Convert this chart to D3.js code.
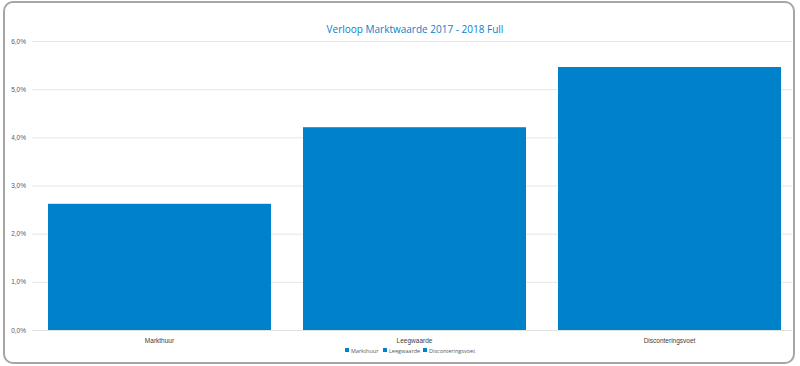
<!DOCTYPE html>
<html><head><meta charset="utf-8">
<script src="https://cdn.jsdelivr.net/npm/d3@7"></script>
<style>body{margin:0;background:#fff;}svg{display:block;font-family:"Open Sans","Liberation Sans",sans-serif;}</style>
</head><body><svg id="c" width="800" height="366"></svg>
<script>
const categories = ["Markthuur", "Leegwaarde", "Disconteringsvoet"];
const values = [0.0262, 0.0421, 0.0546];
const yTicks = [0, 0.01, 0.02, 0.03, 0.04, 0.05, 0.06];
const title = "Verloop Marktwaarde 2017 - 2018 Full";

const svg = d3.select("#c");
const color = "#0082CA";
svg.append("rect").attr("x",4).attr("y",2).attr("width",790).attr("height",361)
  .attr("rx",9).attr("fill","#fff").attr("stroke","#a6a6a6").attr("stroke-width",2);

const m = {l:32, r:792, t:41, b:330};
const x = d3.scaleBand().domain(categories).range([32, 797]).paddingInner(0.1255).paddingOuter(0.0627);
const y = d3.scaleLinear().domain([0,0.06]).range([m.b, m.t]);
const fmt = d => d3.format(".1f")(d*100).replace(".",",") + "%";

svg.append("g").selectAll("line").data(yTicks).join("line")
  .attr("x1",m.l).attr("x2",m.r).attr("y1",d=>y(d)+0.5).attr("y2",d=>y(d)+0.5)
  .attr("stroke","#e6e6e6").attr("stroke-width",1);

const yAxis = d3.axisLeft(y).tickValues(yTicks).tickFormat(fmt).tickSize(0).tickPadding(6);
const ya = svg.append("g").attr("transform",`translate(${m.l},0)`).call(yAxis);
ya.select(".domain").remove();
ya.selectAll("text").attr("fill","#595959").attr("font-size",6.5);

svg.append("g").selectAll("rect").data(categories).join("rect")
  .attr("x",d=>x(d)).attr("width",x.bandwidth())
  .attr("y",(d,i)=>y(values[i])).attr("height",(d,i)=>y(0)-y(values[i]))
  .attr("fill",color);

const xAxis = d3.axisBottom(x).tickSize(0).tickPadding(8);
const xa = svg.append("g").attr("transform",`translate(0,${m.b})`).call(xAxis);
xa.select(".domain").remove();
svg.append("line").attr("x1",m.l).attr("x2",m.r).attr("y1",m.b+0.5).attr("y2",m.b+0.5).attr("stroke","#e0e0e0");
xa.selectAll("text").attr("fill","#404040").attr("font-size",6.5);

svg.append("text").attr("x",415).attr("y",32.5).attr("text-anchor","middle")
  .attr("fill","#0a80cc").attr("font-size",10).text(title);

const legX = [345, 383, 423];
const lg = svg.append("g").selectAll("g").data(categories).join("g")
  .attr("transform",(d,i)=>`translate(${legX[i]},351)`);
lg.append("rect").attr("x",0).attr("y",-3).attr("width",4).attr("height",4).attr("fill",color);
lg.append("text").attr("x",6).attr("y",1.5).attr("fill","#595959").attr("font-size",5.5).text(d=>d);
</script></body></html>
